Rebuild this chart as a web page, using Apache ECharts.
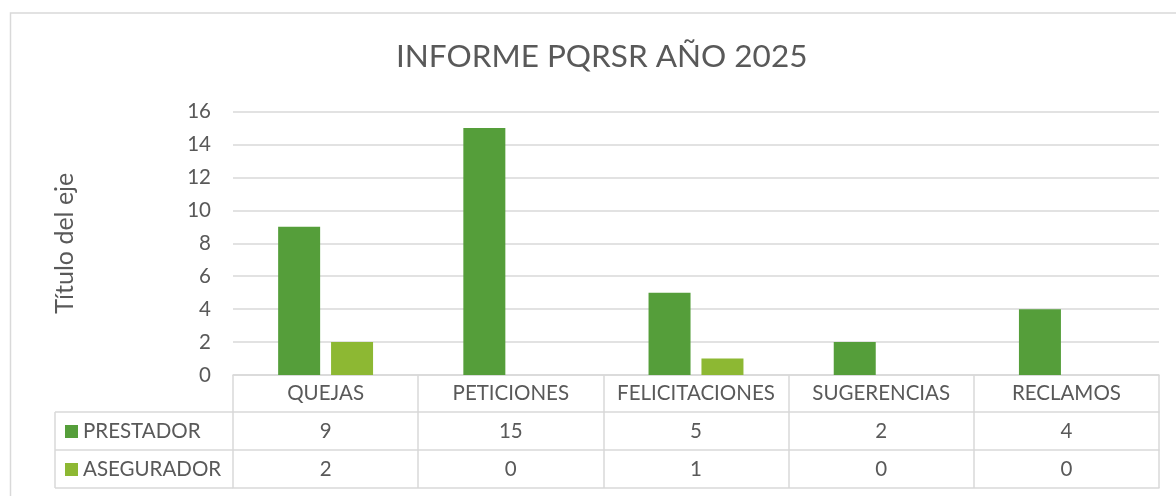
<!DOCTYPE html>
<html>
<head>
<meta charset="utf-8">
<script src="https://cdn.jsdelivr.net/npm/echarts@6/dist/echarts.min.js"></script>
<style>
  html, body { margin: 0; background: #fff; }
  #chart { width: 1176px; height: 496px; }
</style>
</head>
<body>
<div id="chart"></div>
<script>
// data
var categories = ["QUEJAS", "PETICIONES", "FELICITACIONES", "SUGERENCIAS", "RECLAMOS"];
var prestador = [9, 15, 5, 2, 4];
var asegurador = [2, 0, 1, 0, 0];
var seriesNames = ["PRESTADOR", "ASEGURADOR"];
var yMin = 0, yMax = 16, yStep = 2;

var FONT = "Lato";
var TXT = "#595959";
var LINE = "#d9d9d9";
var colors = ["#559e3a", "#8db833"];

// layout of the plot + data table
var gridLeft = 233, gridRight = 17, gridTop = 111.5, gridBottom = 121;
var plotBottom = 496 - gridBottom;       // 375
var rowOffsets = [37, 75, 113];          // table row lines below the axis
var tableLeft = 55;

var labelStyle = { color: TXT, fontFamily: FONT, fontSize: 20.5, lineHeight: 22 };

function rowAxis(offset, values) {
  return {
    type: "category",
    position: "bottom",
    offset: offset,
    data: categories,
    axisLine: { show: true, lineStyle: { color: LINE, width: 1.5 } },
    axisTick: { show: false },
    axisLabel: Object.assign({
      show: !!values,
      interval: 0,
      margin: 8,
      formatter: function (v, i) { return values ? String(values[i]) : ""; }
    }, labelStyle)
  };
}

var chart = echarts.init(document.getElementById("chart"));

var leftCol = [];
rowOffsets.forEach(function (o) {
  leftCol.push({
    type: "line",
    shape: { x1: tableLeft, y1: plotBottom + o, x2: gridLeft, y2: plotBottom + o },
    style: { stroke: LINE, lineWidth: 1.5 }
  });
});
leftCol.push({
  type: "line",
  shape: { x1: tableLeft, y1: plotBottom + rowOffsets[0], x2: tableLeft, y2: plotBottom + rowOffsets[2] },
  style: { stroke: LINE, lineWidth: 1.5 }
});
leftCol.push({
  type: "rect",
  shape: { x: 10.5, y: 13, width: 1300, height: 600 },
  style: { fill: "none", stroke: LINE, lineWidth: 1.5 },
  z: -1
});

chart.setOption({
  animation: false,
  color: colors,
  title: {
    text: "INFORME PQRSR AÑO 2025",
    left: 391,
    top: 36,
    textStyle: { color: TXT, fontFamily: FONT, fontSize: 31.5, fontWeight: "normal" }
  },
  legend: {
    orient: "vertical",
    left: 60,
    top: plotBottom + rowOffsets[0] + 4,
    itemGap: 17,
    itemWidth: 13,
    itemHeight: 13,
    icon: "rect",
    data: seriesNames,
    textStyle: { color: TXT, fontFamily: FONT, fontSize: 20.5, lineHeight: 21 }
  },
  grid: { left: gridLeft, right: gridRight, top: gridTop, bottom: gridBottom, containLabel: false },
  xAxis: [
    {
      type: "category",
      data: categories,
      axisLine: { lineStyle: { color: LINE, width: 1.5 } },
      axisTick: { show: true, length: rowOffsets[2], interval: 0, lineStyle: { color: LINE, width: 1.5 } },
      axisLabel: Object.assign({ interval: 0, margin: 7 }, labelStyle)
    },
    rowAxis(rowOffsets[0], prestador),
    rowAxis(rowOffsets[1], asegurador),
    rowAxis(rowOffsets[2], null)
  ],
  yAxis: {
    type: "value",
    min: yMin,
    max: yMax,
    interval: yStep,
    name: "Título del eje",
    nameLocation: "middle",
    nameGap: 156,
    nameRotate: 90,
    nameTextStyle: { color: TXT, fontFamily: FONT, fontSize: 25 },
    axisLine: { show: false },
    axisTick: { show: false },
    axisLabel: Object.assign({ margin: 22 }, labelStyle),
    splitLine: { lineStyle: { color: LINE, width: 1.5 } }
  },
  series: [
    { name: seriesNames[0], type: "bar", data: prestador, barWidth: 42, barGap: "26%" },
    { name: seriesNames[1], type: "bar", data: asegurador, barWidth: 42, barGap: "26%" }
  ],
  graphic: leftCol
});
</script>
</body>
</html>
